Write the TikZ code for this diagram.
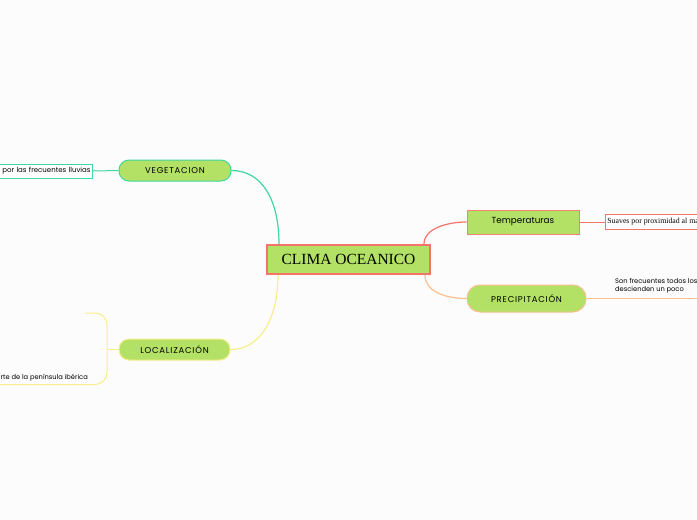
\documentclass[tikz,border=0pt]{standalone}
\usepackage{fontspec}
\setmainfont{Liberation Serif}
\newfontfamily\gothic{Poppins}
\newfontfamily\gothicwide[LetterSpace=9]{Poppins}
\definecolor{leafgreen}{HTML}{B2E165}
\definecolor{coral}{HTML}{F4736C}
\definecolor{peach}{HTML}{FBBF90}
\definecolor{seagreen}{HTML}{3FD6A2}
\definecolor{paleyellow}{HTML}{F8EE8C}
\tikzset{
  topic/.style={fill=leafgreen,minimum width=#1,inner sep=0pt,font=\gothicwide\fontsize{8.5}{10}\selectfont},
  leaf/.style={fill=white,inner sep=2pt,font=\fontsize{7.8}{9}\selectfont},
  sub/.style={font=\gothic\fontsize{6.7}{8}\selectfont,inner sep=0pt}
}
\begin{document}
\begin{tikzpicture}[x=1pt,y=-1pt]
        \fill[white!99!black] (0,0) rectangle (697,520);
        \useasboundingbox (0,0) rectangle (697,520);
        \clip (0,0) rectangle (697,520);

        % main topic
        \node (clima) at (348.5,259.5) [draw=coral,line width=2pt,fill=leafgreen,minimum width=163pt,minimum height=29pt,inner sep=0pt,font=\fontsize{15.5}{18}\selectfont] {CLIMA OCEANICO};

        % right side
        \node (temp) at (523,222) [topic=112pt,draw=coral!80!peach,line width=1pt,minimum height=24pt,font=\gothic\fontsize{8.8}{10}\selectfont] {Temperaturas};
        \node (templeaf) at (605,222) [leaf,anchor=west,draw=coral,line width=0.8pt,minimum height=15pt] {Suaves por proximidad al mar};
        \node (precip) at (526.5,298.5) [topic=119pt,draw=peach,line width=1pt,minimum height=27pt,rounded corners=13pt] {PRECIPITACI\'ON};
        \node (preciptext) at (615,286) [sub,anchor=west,align=left] {Son frecuentes todos los\\descienden un poco};
        \coordinate (precipend) at (697,298.5);

        % left side
        \node (veg) at (175,170.5) [topic=112pt,draw=seagreen,line width=1pt,minimum height=21pt,rounded corners=10pt] {VEGETACION};
        \node (vegleaf) at (93,171) [leaf,anchor=east,draw=seagreen,line width=0.8pt,minimum height=14pt,text width=104pt,align=right,font=\gothic\fontsize{7}{8}\selectfont] {por las frecuentes lluvias};
        \node (loc) at (174.5,349.5) [topic=111pt,draw=paleyellow,line width=1pt,minimum height=21pt,rounded corners=10pt] {LOCALIZACI\'ON};
        \node (loctext) at (88,378) [sub,anchor=east] {rte de la pen\'insula ib\'erica};
        \coordinate (brace) at (107,349.5);

        % connectors
        \draw[coral,line width=1.2pt] ([xshift=-7pt]clima.north east) .. controls ++(0,-16) and ++(-18,0) .. (temp.west);
        \draw[peach,line width=1.2pt] ([xshift=-6pt]clima.south east) .. controls ++(0,16) and ++(-22,0) .. (precip.west);
        \draw[seagreen,line width=1.2pt] ([xshift=13pt]clima.north west) .. controls ++(0,-45) and ++(30,0) .. (veg.east);
        \draw[paleyellow,line width=1.2pt] ([xshift=12pt]clima.south west) .. controls ++(0,40) and ++(32,0) .. (loc.east);
        \draw[coral,line width=0.8pt] (temp.east) -- (templeaf.west);
        \draw[peach,line width=1pt] (precip.east) -- (precipend);
        \draw[seagreen,line width=1pt] (veg.west) -- (vegleaf.east);
        \draw[paleyellow,line width=1pt] (loc.west) -- (brace);
        \draw[paleyellow,line width=1pt,rounded corners=12pt] (85,313) -- (brace |- 0,313) -- (brace |- 0,384.5) -- (0,384.5);
\end{tikzpicture}
\end{document}
